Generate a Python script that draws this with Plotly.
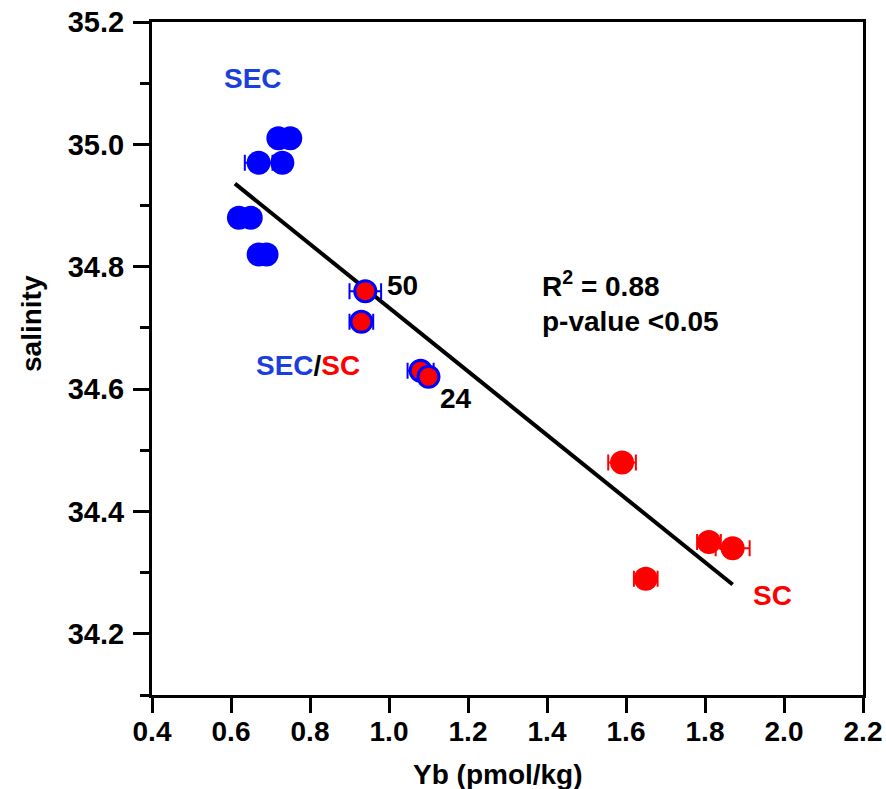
import plotly.graph_objects as go

# ---- data ----
sec_x = [0.72, 0.75, 0.67, 0.73, 0.62, 0.65, 0.67, 0.69]
sec_y = [35.01, 35.01, 34.97, 34.97, 34.88, 34.88, 34.82, 34.82]
sec_err = [0.02, 0.02, 0.035, 0.02, 0.02, 0.02, 0.02, 0.02]

mix_x = [0.94, 0.93, 1.08, 1.10]
mix_y = [34.76, 34.71, 34.63, 34.62]
mix_err = [0.04, 0.03, 0.033, 0.02]

sc_x = [1.59, 1.65, 1.81, 1.87]
sc_y = [34.48, 34.29, 34.35, 34.34]
sc_err = [0.035, 0.03, 0.03, 0.043]

fit_slope = -0.520
fit_intercept = 35.253
fit_xrange = [0.61, 1.87]

x_ticks = [0.4, 0.6, 0.8, 1.0, 1.2, 1.4, 1.6, 1.8, 2.0, 2.2]
y_ticks = [34.2, 34.4, 34.6, 34.8, 35.0, 35.2]

BLUE = "#0000FF"
RED = "#FF0000"
TBLUE = "#1a3fdc"
FONT = "Liberation Sans, Arial, sans-serif"

fig = go.Figure()

fit_y = [fit_slope * v + fit_intercept for v in fit_xrange]
fig.add_trace(go.Scatter(x=fit_xrange, y=fit_y, mode="lines",
                         line=dict(color="black", width=4), showlegend=False))

fig.add_trace(go.Scatter(
    x=sec_x, y=sec_y, mode="markers",
    marker=dict(color=BLUE, size=24, line=dict(width=0)),
    error_x=dict(type="data", array=sec_err, color=BLUE, thickness=2, width=8),
    showlegend=False))

fig.add_trace(go.Scatter(
    x=sc_x, y=sc_y, mode="markers",
    marker=dict(color=RED, size=24, line=dict(width=0)),
    error_x=dict(type="data", array=sc_err, color=RED, thickness=2, width=8),
    showlegend=False))

fig.add_trace(go.Scatter(
    x=mix_x, y=mix_y, mode="markers",
    marker=dict(color=RED, size=21, line=dict(width=3, color=BLUE)),
    error_x=dict(type="data", array=mix_err, color=BLUE, thickness=2, width=8),
    showlegend=False))

ann_font = dict(family=FONT, size=28, weight="bold")
annotations = [
    dict(x=0.656, y=35.108, text="SEC", font=dict(ann_font, color=TBLUE)),
    dict(x=0.99, y=34.769, text="50", xanchor="left", font=dict(ann_font, color="black")),
    dict(x=0.795, y=34.638,
         text=f"<span style='color:{TBLUE}'>SEC</span>/<span style='color:{RED}'>SC</span>",
         font=dict(ann_font, color="black")),
    dict(x=1.17, y=34.585, text="24", font=dict(ann_font, color="black")),
    dict(x=1.383, y=34.772, text="R<sup>2</sup> = 0.88", xanchor="left",
         font=dict(ann_font, color="black")),
    dict(x=1.383, y=34.711, text="p-value <0.05", xanchor="left",
         font=dict(ann_font, color="black")),
    dict(x=1.972, y=34.262, text="SC", font=dict(ann_font, color=RED)),
]
for a in annotations:
    a.update(xref="x", yref="y", showarrow=False)

# axis titles placed as text in paper pixels
W, H = 886, 789
ML, MR, MT, MB = 152, 23, 22, 94
pw, ph = W - ML - MR, H - MT - MB
title_font = dict(family=FONT, size=28, color="black", weight="bold")
annotations.append(dict(
    xref="paper", yref="paper", showarrow=False,
    x=(498 - ML) / pw, y=(H - MB - 774) / ph,
    text="Yb (pmol/kg)", font=title_font, xanchor="center", yanchor="middle"))
annotations.append(dict(
    xref="paper", yref="paper", showarrow=False,
    x=(31 - ML) / pw, y=(H - MB - 324) / ph, textangle=-90,
    text="salinity", font=title_font, xanchor="center", yanchor="middle"))

fig.update_layout(
    width=W, height=H,
    margin=dict(l=ML, r=MR, t=MT, b=MB),
    paper_bgcolor="white", plot_bgcolor="white",
    annotations=annotations,
    xaxis=dict(
        range=[0.4, 2.2], tickvals=x_ticks,
        ticktext=[f"{v:.1f}" for v in x_ticks],
        showgrid=False, zeroline=False, automargin=False,
        showline=True, linecolor="black", linewidth=3, mirror=True,
        ticks="outside", ticklen=15, tickwidth=3, tickcolor="black",
        tickfont=dict(family=FONT, size=28, color="black", weight="bold"),
        ticklabelstandoff=-6,
    ),
    yaxis=dict(
        range=[34.1, 35.2], tickvals=y_ticks,
        ticktext=[f"{v:.1f}" for v in y_ticks],
        showgrid=False, zeroline=False, automargin=False,
        showline=True, linecolor="black", linewidth=3, mirror=True,
        ticks="outside", ticklen=16, tickwidth=3, tickcolor="black",
        minor=dict(dtick=0.1, tick0=34.1, ticks="outside", ticklen=9,
                   tickwidth=3, tickcolor="black", showgrid=False),
        tickfont=dict(family=FONT, size=29, color="black", weight="bold"),
        ticklabelstandoff=3,
    ),
)

fig.write_html("out.html")
